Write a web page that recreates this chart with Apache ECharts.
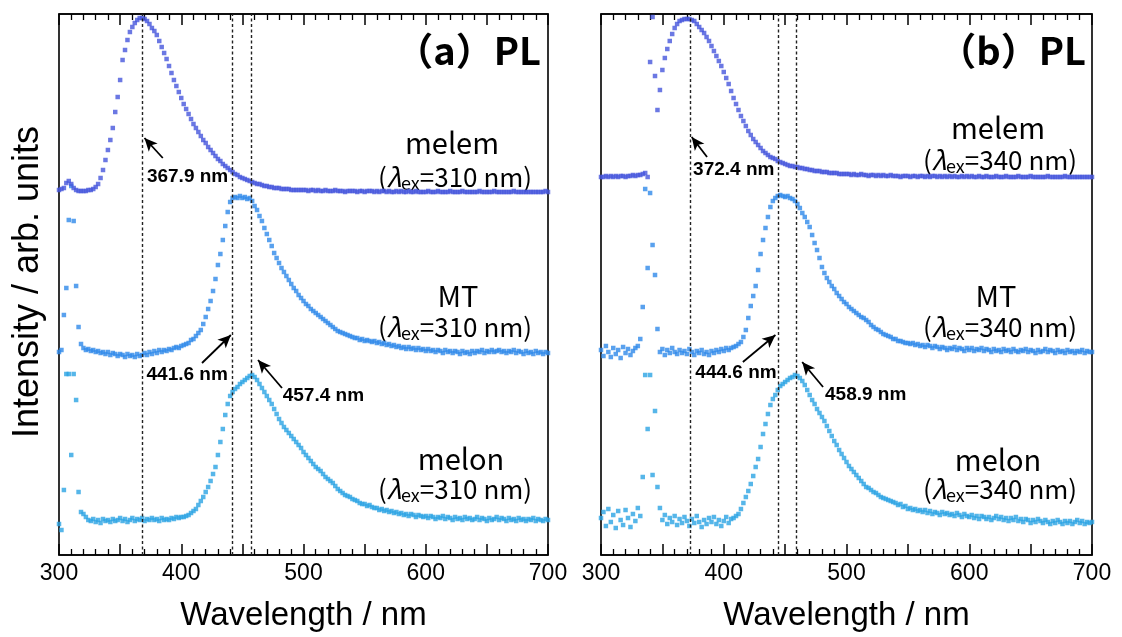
<!DOCTYPE html>
<html>
<head>
<meta charset="utf-8">
<script src="https://cdn.jsdelivr.net/npm/echarts@6/dist/echarts.min.js"></script>
<style>
  html, body { margin: 0; padding: 0; background: #fff; }
  #chart { width: 1122px; height: 637px; }
</style>
</head>
<body>
<div id="chart"></div>
<script>
// Sampling grid of the spectra: 300–700 nm in 2 nm steps
const wavelength = [];
for (let w = 300; w <= 700; w += 2) wavelength.push(w);

// Tick labels of the wavelength axes
const tickLabels = ['300', '400', '500', '600', '700'];

// (a) excitation 310 nm — stacked PL intensities (arb. units, offsets included)
const melemA = [
  365,366,367,372,374,371,367,365,364,364,
  364,364,365,365,366,368,371,377,385,395,
  405,415,427,443,458,475,495,505,515,523,
  528,532,535,537,537,536,534,531,527,524,
  520,514,508,502,496,489,482,475,469,463,
  457,451,446,441,436,431,427,423,419,415,
  412,408,405,402,399,396,394,391,389,387,
  385,383,381,380,378,377,376,375,374,373,
  372,371,371,370,369,369,368,368,367,367,
  367,366,366,366,366,365,365,365,365,365,
  365,365,364,365,365,364,365,364,364,365,
  364,364,364,365,364,364,364,363,364,364,
  364,364,363,364,364,363,364,364,364,363,
  364,363,364,364,363,364,363,363,364,363,
  364,363,363,364,363,363,364,363,363,363,
  363,364,363,363,363,364,363,363,363,363,
  364,363,363,363,363,364,363,363,363,363,
  363,363,364,363,363,363,363,363,364,363,
  363,363,363,363,363,363,364,363,363,363,
  363,363,363,363,363,363,363,363,363,364,
  363
];
const mtA = [
  203,205,240,267,335,369,334,269,228,211,
  207,205,206,204,205,203,204,202,203,201,
  203,200,202,201,199,201,200,198,201,199,
  200,198,201,199,200,202,200,203,201,204,
  202,205,203,205,204,206,205,207,208,207,
  209,210,211,212,215,216,219,222,225,231,
  238,246,254,264,276,290,301,315,329,343,
  353,357,358,357,359,357,358,356,357,354,
  349,345,339,334,327,321,315,309,302,297,
  292,287,283,279,275,271,267,264,260,257,
  254,251,249,246,244,242,240,238,236,234,
  232,230,228,226,224,223,222,221,220,219,
  218,217,217,215,216,214,215,214,213,214,
  212,213,211,212,210,211,209,210,208,209,
  207,208,206,208,206,207,205,207,205,206,
  204,206,204,205,203,205,204,202,205,203,
  204,202,204,203,201,204,202,203,201,204,
  202,204,203,205,202,204,203,205,203,204,
  205,203,204,202,204,203,205,202,204,203,
  201,204,202,203,201,204,202,203,201,203,
  202
];
const melonA = [
  31,25,65,181,181,100,181,155,63,43,
  41,38,35,34,36,33,35,32,36,34,
  35,33,36,34,35,37,34,36,33,35,
  37,34,36,35,37,34,36,35,37,35,
  36,34,37,35,36,35,37,36,38,37,
  38,38,39,40,42,44,46,50,54,58,
  63,68,74,81,88,100,113,126,140,151,
  159,163,166,168,171,173,175,177,179,180,
  178,175,171,167,163,159,155,151,146,141,
  136,132,128,125,122,119,116,113,110,107,
  103,100,97,94,91,88,86,84,81,78,
  76,74,72,69,66,64,62,60,59,58,
  56,55,54,52,51,51,49,50,48,47,
  47,45,46,44,45,43,44,42,43,41,
  42,40,41,39,41,40,38,40,39,38,
  39,37,39,38,36,38,37,39,36,38,
  37,35,38,36,37,35,38,36,37,35,
  36,38,35,37,36,34,37,35,36,38,
  35,37,36,34,37,35,36,34,37,35,
  36,34,36,35,37,34,36,35,34,36,
  35
];

// (b) excitation 340 nm
const melemB = [
  378,378,379,378,379,378,379,378,379,379,
  378,379,379,380,379,380,380,381,382,378,
  493,538,479,445,465,485,497,506,514,521,
  527,531,534,535,536,536,536,535,534,531,
  528,525,522,518,514,509,504,499,494,489,
  483,477,471,464,457,451,445,439,434,429,
  424,420,416,413,410,407,404,402,400,398,
  397,396,394,393,392,391,390,389,389,388,
  388,387,387,386,386,385,385,384,384,384,
  383,383,383,382,382,382,382,381,381,381,
  381,381,380,381,380,380,381,380,380,379,
  380,380,379,380,379,380,379,379,380,379,
  379,379,378,379,379,379,378,379,379,378,
  379,379,378,379,378,379,379,378,379,378,
  379,378,379,378,379,378,378,379,378,379,
  378,379,378,378,379,378,378,379,378,378,
  378,379,378,378,378,379,378,378,378,378,
  379,378,378,378,378,379,378,378,378,378,
  378,378,379,378,378,378,378,378,378,379,
  378,378,378,378,378,378,378,378,378,378,
  378
];
const mtB = [
  205,199,209,203,198,207,201,205,197,208,
  202,206,200,204,207,209,216,248,366,287,
  362,310,280,226,203,206,200,205,202,207,
  203,201,205,202,204,201,206,203,200,204,
  202,205,201,203,200,204,202,205,203,206,
  204,207,205,207,208,209,211,213,218,225,
  237,249,259,269,285,301,315,327,338,348,
  354,357,359,360,359,358,359,357,356,354,
  351,347,342,338,333,328,320,312,305,297,
  288,282,277,273,269,266,262,259,256,253,
  251,248,246,244,242,240,238,237,235,233,
  230,228,226,225,223,221,220,219,218,216,
  216,214,214,213,212,212,211,212,210,211,
  209,210,208,210,209,207,209,208,206,208,
  207,205,207,206,208,205,207,206,204,207,
  205,207,204,206,205,207,204,206,205,203,
  206,204,205,203,206,204,205,203,206,204,
  203,205,204,206,203,205,204,202,205,203,
  204,206,203,205,204,202,205,203,204,202,
  205,203,204,202,204,203,205,202,204,203,
  203
];
const melonB = [
  37,43,29,46,33,40,27,44,35,30,
  45,37,28,41,34,47,39,78,180,126,
  180,80,144,68,47,35,40,31,37,33,
  39,30,36,32,38,34,29,36,32,39,
  33,28,35,31,37,33,38,31,35,29,
  34,38,32,36,37,39,41,46,52,58,
  64,71,79,88,96,108,121,131,141,150,
  156,160,165,169,171,173,175,177,178,180,
  179,177,174,170,165,160,155,151,146,142,
  138,134,129,124,119,114,110,105,101,97,
  93,89,86,83,80,77,74,71,68,67,
  65,63,62,60,58,57,56,55,54,53,
  52,50,51,48,49,46,47,45,46,44,
  45,43,45,42,44,41,43,42,40,43,
  41,42,40,41,39,42,40,38,41,39,
  38,40,37,39,36,39,38,36,38,35,
  37,39,36,38,35,37,34,37,35,38,
  34,36,33,36,35,32,35,33,36,34,
  32,35,33,31,34,32,35,33,31,34,
  32,34,31,33,35,32,34,31,33,32,
  33
];

// Peak wavelengths marked by dotted lines (nm)
const peaksA = [367.9, 441.6, 457.4];
const peaksB = [372.4, 444.6, 458.9];

// Excitation wavelengths (nm)
const excitation = [310, 340];
const sampleNames = ['melem', 'MT', 'melon'];

// Arrow/label layout per peak: [tip dx, tip y, tail dx, tail y, label dx, label y, side]
const annotA = [
  [2, 417, 17, 397, 4, 378, 'right'],
  [-1, 220, -24.6, 192, -3.5, 180, 'left'],
  [5.4, 195, 25, 167, 25.6, 159, 'right']
];
const annotB = [
  [1.5, 418, 14, 398, 2.6, 385, 'right'],
  [-2.5, 220, -29, 193, -1.5, 182, 'left'],
  [5, 193, 22, 168, 23.6, 160, 'right']
];

const COL = { melem: '#4656DC', MT: '#2F8AEA', melon: '#2CA4E4' };
const F_JP = '"Noto Sans CJK JP", "Noto Sans", sans-serif';
const F_AX = '"Liberation Sans", Arial, sans-serif';

const pairs = arr => wavelength.map((w, i) => [w, arr[i]]);

function xAxes(gridIndex) {
  const common = {
    type: 'value', gridIndex, min: 300, max: 700, interval: 50,
    axisLine: { show: true, onZero: false, lineStyle: { color: '#000', width: 1.6 } },
    axisTick: { show: true, inside: true, length: 11, lineStyle: { color: '#000', width: 1.5 } },
    minorTick: { show: true, splitNumber: 5, length: 6, lineStyle: { color: '#000', width: 1.3 } },
    splitLine: { show: false },
    minorSplitLine: { show: false }
  };
  return [
    Object.assign({}, common, {
      position: 'bottom',
      axisLabel: {
        show: true, margin: 7, fontSize: 23, fontFamily: F_AX, color: '#000',
        showMinLabel: true, showMaxLabel: true,
        formatter: v => (tickLabels.includes(String(v)) ? String(v) : '')
      },
      name: 'Wavelength / nm', nameLocation: 'middle', nameGap: 44,
      nameTextStyle: { fontSize: 33, fontFamily: F_AX, color: '#000' }
    }),
    Object.assign({}, common, { position: 'top', axisLabel: { show: false } })
  ];
}

function yAxis(gridIndex) {
  return {
    type: 'value', gridIndex, min: 0, max: 541,
    axisLine: { show: false }, axisTick: { show: false },
    axisLabel: { show: false }, splitLine: { show: false }
  };
}

function panelSeries(gi, melem, mt, melon, peaks, annot) {
  const base = {
    type: 'scatter', xAxisIndex: gi * 2, yAxisIndex: gi,
    symbol: 'rect', symbolSize: 4.5, silent: true, animation: false
  };
  const arrows = peaks.map((p, k) => {
    const a = annot[k];
    return [
      { coord: [p + a[2], a[3]], symbol: 'none',
        lineStyle: { type: 'solid', color: '#000', width: 1.8 } },
      { coord: [p + a[0], a[1]], symbol: 'arrow', symbolSize: [9, 13] }
    ];
  });
  const labels = peaks.map((p, k) => {
    const a = annot[k];
    return {
      coord: [p + a[4], a[5]],
      label: { position: a[6], formatter: p.toFixed(1) + ' nm' }
    };
  });
  return [
    Object.assign({}, base, { name: 'melon', data: pairs(melon), itemStyle: { color: COL.melon } }),
    Object.assign({}, base, { name: 'MT', data: pairs(mt), itemStyle: { color: COL.MT } }),
    Object.assign({}, base, {
      name: 'melem', data: pairs(melem), itemStyle: { color: COL.melem },
      markLine: {
        silent: true, animation: false, symbol: ['none', 'none'],
        label: { show: false },
        lineStyle: { color: '#222', type: [3, 2.5], width: 1.4 },
        emphasis: { disabled: true },
        data: peaks.map(p => ({ xAxis: p })).concat(arrows)
      },
      markPoint: {
        silent: true, animation: false, symbol: 'circle', symbolSize: 0,
        label: {
          show: true, distance: 0, color: '#000', fontFamily: F_AX,
          fontWeight: 'bold', fontSize: 19
        },
        data: labels
      }
    })
  ];
}

function exLabel(x, y, ex) {
  return {
    type: 'text', x, y, silent: true,
    style: {
      text: '{a|(}{l|λ}{s|ex}{a|=' + ex + ' nm)}',
      align: 'center', verticalAlign: 'middle',
      rich: {
        a: { fontSize: 26, lineHeight: 30, fontFamily: F_JP, fill: '#000' },
        l: { fontSize: 26, lineHeight: 30, fontFamily: F_JP, fontStyle: 'italic', fill: '#000' },
        s: { fontSize: 18, lineHeight: 15, fontFamily: F_JP, fill: '#000', verticalAlign: 'bottom' }
      }
    }
  };
}

function nameLabel(x, y, txt) {
  return {
    type: 'text', x, y, silent: true,
    style: { text: txt, fontSize: 29, fontFamily: F_JP, fill: '#000', align: 'center', verticalAlign: 'middle' }
  };
}

function titleLabel(x, y, txt) {
  return {
    type: 'text', x, y, silent: true,
    style: { text: txt, fontSize: 38, fontWeight: 'bold', fontFamily: F_JP, fill: '#000', align: 'right', verticalAlign: 'middle' }
  };
}

const option = {
  animation: false,
  backgroundColor: '#fff',
  grid: [
    { left: 59, top: 14, width: 489, height: 541, show: true, borderColor: '#000', borderWidth: 1.6, backgroundColor: 'transparent' },
    { left: 601, top: 14, width: 491, height: 541, show: true, borderColor: '#000', borderWidth: 1.6, backgroundColor: 'transparent' }
  ],
  xAxis: xAxes(0).concat(xAxes(1)),
  yAxis: [yAxis(0), yAxis(1)],
  series: panelSeries(0, melemA, mtA, melonA, peaksA, annotA)
    .concat(panelSeries(1, melemB, mtB, melonB, peaksB, annotB)),
  graphic: [
    titleLabel(541, 51, '（a）PL'),
    titleLabel(1086, 51, '（b）PL'),
    nameLabel(452, 143, sampleNames[0]), exLabel(455, 177, excitation[0]),
    nameLabel(458, 296, sampleNames[1]), exLabel(455, 327, excitation[0]),
    nameLabel(461, 459, sampleNames[2]), exLabel(455, 489, excitation[0]),
    nameLabel(998, 128, sampleNames[0]), exLabel(1000, 160, excitation[1]),
    nameLabel(996, 296, sampleNames[1]), exLabel(1000, 327, excitation[1]),
    nameLabel(998, 460, sampleNames[2]), exLabel(1000, 489, excitation[1]),
    {
      type: 'text', x: 28, y: 282, rotation: Math.PI / 2, silent: true,
      style: { text: 'Intensity / arb. units', fontSize: 36, fontFamily: F_AX, fill: '#000', align: 'center', verticalAlign: 'middle' }
    }
  ]
};

const chart = echarts.init(document.getElementById('chart'), null, { renderer: 'canvas' });
chart.setOption(option);
</script>
</body>
</html>
